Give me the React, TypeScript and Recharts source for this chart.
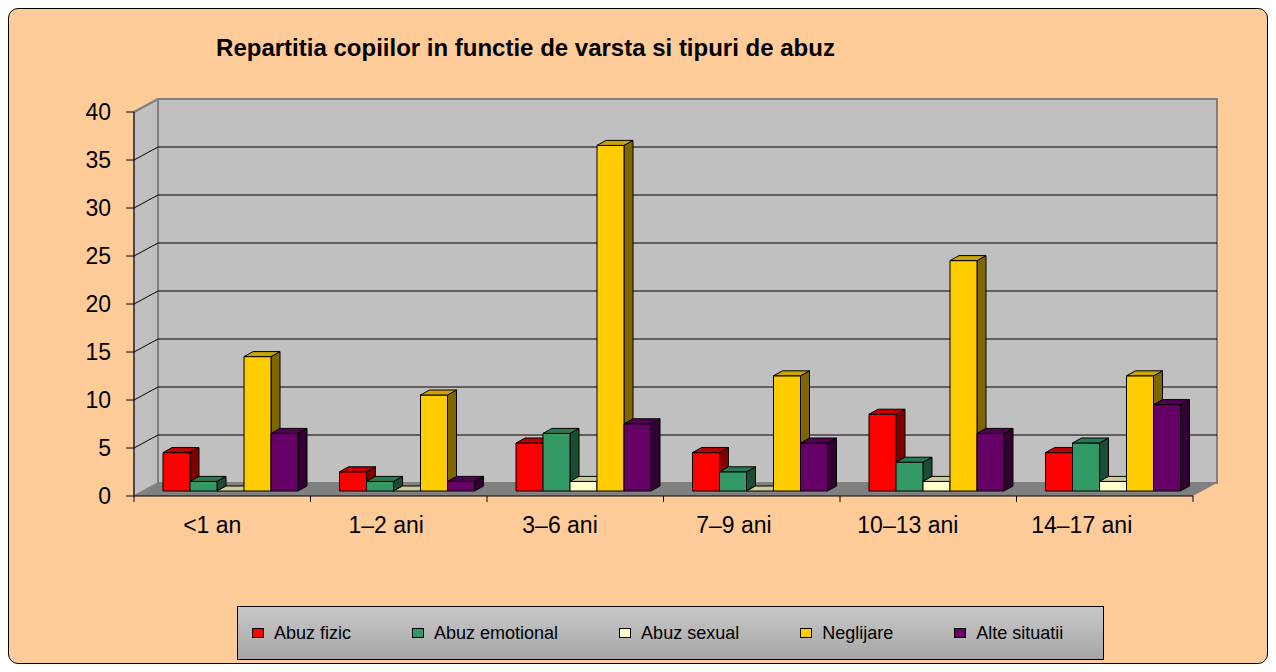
import React from "react";
import { BarChart, Bar, XAxis, YAxis, CartesianGrid, Legend } from "recharts";

const categories = ["<1 an", "1–2 ani", "3–6 ani", "7–9 ani", "10–13 ani", "14–17 ani"];
const abuzFizic = [4, 2, 5, 4, 8, 4];
const abuzEmotional = [1, 1, 6, 2, 3, 5];
const abuzSexual = [0, 0, 1, 0, 1, 1];
const neglijare = [14, 10, 36, 12, 24, 12];
const alteSituatii = [6, 1, 7, 5, 6, 9];
const yTicks = [0, 5, 10, 15, 20, 25, 30, 35, 40];

const series = [
  { key: "fizic", name: "Abuz fizic", values: abuzFizic, front: "#FF0000", top: "#C00000", side: "#800000" },
  { key: "emotional", name: "Abuz emotional", values: abuzEmotional, front: "#339966", top: "#297A52", side: "#1A4D33" },
  { key: "sexual", name: "Abuz sexual", values: abuzSexual, front: "#FFFFCC", top: "#CCCC99", side: "#808066" },
  { key: "neglijare", name: "Neglijare", values: neglijare, front: "#FFCC00", top: "#CCA300", side: "#806600" },
  { key: "alte", name: "Alte situatii", values: alteSituatii, front: "#660066", top: "#520052", side: "#330033" },
];

const data = categories.map((name, i) => {
  const row: Record<string, string | number> = { name };
  series.forEach((s) => (row[s.key] = s.values[i]));
  return row;
});

const FONT = "'Liberation Sans', Arial, sans-serif";
const W = 1258;
const H = 654;
// front plane of the plot, in chart coordinates
const LEFT = 125;
const TOP = 103;
const PLOT_W = 1059;
const PLOT_H = 384;
const RIGHT = LEFT + PLOT_W;
const BOTTOM = TOP + PLOT_H;
// back wall offset
const DX = 24;
const DY = -13;
// bar placement inside the depth, and bar depth
const BX = 8;
const BY = -5;
const BDX = 9;
const BDY = -5;

const Box3D = (props: any) => {
  const { x, y, width, height, fill, topColor, sideColor } = props;
  if (x == null || y == null) return <g />;
  const fx = x + BX;
  const fy = y + BY;
  const h = Math.max(0, height || 0);
  const top = `${fx},${fy} ${fx + BDX},${fy + BDY} ${fx + width + BDX},${fy + BDY} ${fx + width},${fy}`;
  const side = `${fx + width},${fy} ${fx + width + BDX},${fy + BDY} ${fx + width + BDX},${fy + h + BDY} ${fx + width},${fy + h}`;
  return (
    <g stroke="#000" strokeWidth={1} strokeLinejoin="round">
      {h > 0 && <polygon points={side} fill={sideColor} />}
      {h > 0 && <rect x={fx} y={fy} width={width} height={h} fill={fill} />}
      <polygon points={top} fill={topColor} />
    </g>
  );
};

const GridLine = (props: any) => {
  const { x1, y1, x2, y, height } = props;
  if (Math.abs(y1 - (y + height)) < 1) return <g key={props.key} />;
  const isTop = Math.abs(y1 - y) < 1;
  return (
    <path
      key={props.key}
      d={`M${x1},${y1} L${x1 + DX},${y1 + DY} L${x2 + DX},${y1 + DY}`}
      fill="none"
      stroke={isTop ? "#808080" : "#000"}
      strokeWidth={isTop ? 2 : 1}
    />
  );
};

const CategoryTick = (props: any) => {
  const { x, payload, index } = props;
  const half = PLOT_W / categories.length / 2;
  return (
    <g>
      <line x1={x - half} y1={BOTTOM} x2={x - half} y2={BOTTOM + 6} stroke="#000" />
      {index === categories.length - 1 && (
        <line x1={x + half} y1={BOTTOM} x2={x + half} y2={BOTTOM + 6} stroke="#000" />
      )}
      <text
        x={x - 10 - 2.6 * index}
        y={524}
        textAnchor="middle"
        fontSize={23}
        fontFamily={FONT}
        fill="#000"
      >
        {payload.value}
      </text>
    </g>
  );
};

const LegendBox = () => (
  <div
    style={{
      boxSizing: "border-box",
      width: 867,
      height: 54,
      border: "1px solid #000",
      background: "linear-gradient(#C8C8C8, #A6A6A6)",
      display: "flex",
      alignItems: "center",
      paddingLeft: 14,
      fontFamily: FONT,
      fontSize: 18,
      color: "#000",
      whiteSpace: "nowrap",
    }}
  >
    {series.map((s, i) => (
      <div
        key={s.key}
        style={{
          display: "flex",
          alignItems: "center",
          flexShrink: 0,
          marginRight: i < series.length - 1 ? 61 : 0,
        }}
      >
        <span
          style={{
            display: "inline-block",
            boxSizing: "border-box",
            width: 12,
            height: 10,
            background: s.front,
            border: "1px solid #000",
            marginRight: 10,
          }}
        />
        <span>{s.name}</span>
      </div>
    ))}
  </div>
);

export default function App() {
  return (
    <div
      style={{
        position: "relative",
        width: W,
        height: H,
        border: "1px solid #000",
        borderRadius: 10,
        background: "#FFCC99",
        overflow: "hidden",
      }}
    >
      <svg width={W} height={H} style={{ position: "absolute", left: 0, top: 0 }}>
        <polygon
          points={`${LEFT},${TOP} ${LEFT + DX},${TOP + DY} ${LEFT + DX},${BOTTOM + DY} ${LEFT},${BOTTOM}`}
          fill="#C0C0C0"
          stroke="#808080"
          strokeWidth={1.5}
        />
        <rect
          x={LEFT + DX}
          y={TOP + DY}
          width={PLOT_W}
          height={PLOT_H}
          fill="#C0C0C0"
          stroke="#808080"
          strokeWidth={2}
        />
        <polygon
          points={`${LEFT},${BOTTOM} ${RIGHT},${BOTTOM} ${RIGHT + DX},${BOTTOM + DY} ${LEFT + DX},${BOTTOM + DY}`}
          fill="#808080"
        />
      </svg>
      <div
        style={{
          position: "absolute",
          left: 0,
          top: 27,
          width: 1033,
          textAlign: "center",
          fontFamily: FONT,
          fontWeight: "bold",
          fontSize: 24,
          lineHeight: "24px",
          color: "#000",
        }}
      >
        Repartitia copiilor in functie de varsta si tipuri de abuz
      </div>
      <div style={{ position: "absolute", left: 0, top: 0 }}>
        <BarChart
          width={W}
          height={H}
          data={data}
          margin={{ top: TOP, right: W - RIGHT, bottom: H - BOTTOM - 40, left: LEFT - 60 }}
          barGap={0}
        >
          <CartesianGrid vertical={false} horizontal={GridLine} fill="none" />
          <XAxis
            dataKey="name"
            height={40}
            axisLine={{ stroke: "#000" }}
            tickLine={false}
            tick={CategoryTick}
            interval={0}
          />
          <YAxis
            domain={[0, 40]}
            ticks={yTicks}
            interval={0}
            width={60}
            tickSize={8}
            tickMargin={15}
            axisLine={{ stroke: "#000" }}
            tickLine={{ stroke: "#000" }}
            tick={{ fill: "#000", fontSize: 23, fontFamily: FONT }}
          />
          {series.map((s) => (
            <Bar
              key={s.key}
              dataKey={s.key}
              name={s.name}
              fill={s.front}
              barSize={27}
              isAnimationActive={false}
              shape={(p: any) => <Box3D {...p} topColor={s.top} sideColor={s.side} />}
            />
          ))}
          <Legend
            layout="horizontal"
            verticalAlign="middle"
            align="center"
            wrapperStyle={{ left: 228, top: 597, width: 867, height: 54 }}
            content={() => <LegendBox />}
          />
        </BarChart>
      </div>
    </div>
  );
}
